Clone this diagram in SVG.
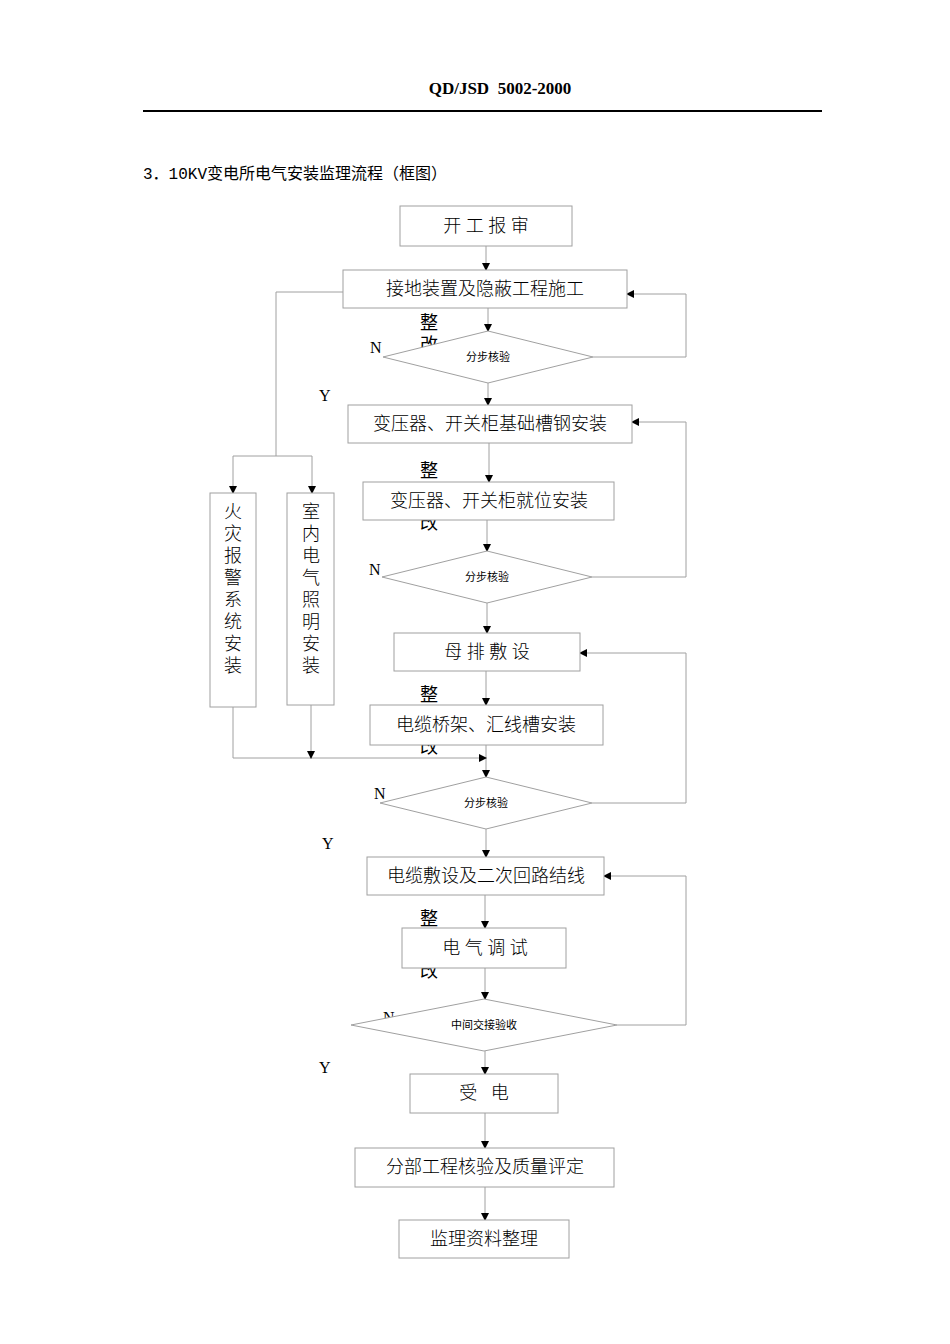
<svg xmlns="http://www.w3.org/2000/svg" width="950" height="1344" viewBox="0 0 950 1344">
<style>
.b{fill:#fff;stroke:#a0a0a0;stroke-width:1}
.l{fill:none;stroke:#a0a0a0;stroke-width:1}
.t{font-family:"Liberation Serif","Noto Sans CJK SC",serif;font-size:18px;font-weight:300;fill:#000;text-anchor:middle}
.s{font-family:"Liberation Serif","Noto Sans CJK SC",serif;font-size:11px;fill:#000;text-anchor:middle}
.yn{font-family:"Liberation Serif",serif;font-size:16px;fill:#000}
.z{font-family:"Liberation Serif","Noto Sans CJK SC",serif;font-size:18px;fill:#000}
</style>
<defs><marker id="a" markerWidth="8" markerHeight="8" refX="7" refY="4" orient="auto" markerUnits="userSpaceOnUse"><path d="M0,0L8,4L0,8z" fill="#000"/></marker></defs>
<rect width="950" height="1344" fill="#fff"/>
<text x="500" y="94" font-family="Liberation Serif,serif" font-weight="bold" font-size="17" text-anchor="middle">QD/JSD&#160; 5002-2000</text>
<line x1="143" y1="111" x2="822" y2="111" stroke="#000" stroke-width="2"/>
<text x="143" y="179" font-family="Liberation Mono,Noto Sans CJK SC,monospace" font-size="16">3．10KV变电所电气安装监理流程（框图）</text>
<g id="labels">
<text class="z" x="420" y="329">整</text><text class="z" x="420" y="351">改</text>
<text class="z" x="420" y="477">整</text><text class="z" x="420" y="529">改</text>
<text class="z" x="420" y="701">整</text><text class="z" x="420" y="753">改</text>
<text class="z" x="420" y="925">整</text><text class="z" x="420" y="977">改</text>
<text class="yn" x="370" y="353">N</text><text class="yn" x="319" y="401">Y</text>
<text class="yn" x="369" y="575">N</text>
<text class="yn" x="374" y="799">N</text><text class="yn" x="322" y="849">Y</text>
<text class="yn" x="383" y="1023">N</text><text class="yn" x="319" y="1073">Y</text>
</g>
<g id="connectors">
<line class="l" x1="486" y1="246" x2="486" y2="270" marker-end="url(#a)"/>
<line class="l" x1="488" y1="308" x2="488" y2="331" marker-end="url(#a)"/>
<line class="l" x1="488" y1="383" x2="488" y2="405" marker-end="url(#a)"/>
<polyline class="l" points="593,357 686,357 686,294 627,294" marker-end="url(#a)"/>
<line class="l" x1="489" y1="443" x2="489" y2="482" marker-end="url(#a)"/>
<line class="l" x1="487" y1="520" x2="487" y2="551" marker-end="url(#a)"/>
<line class="l" x1="487" y1="603" x2="487" y2="633" marker-end="url(#a)"/>
<polyline class="l" points="592,577 686,577 686,422 632,422" marker-end="url(#a)"/>
<line class="l" x1="486" y1="671" x2="486" y2="705" marker-end="url(#a)"/>
<line class="l" x1="486" y1="745" x2="486" y2="777" marker-end="url(#a)"/>
<polyline class="l" points="592,803 686,803 686,653 580,653" marker-end="url(#a)"/>
<line class="l" x1="486" y1="829" x2="486" y2="857" marker-end="url(#a)"/>
<line class="l" x1="485" y1="895" x2="485" y2="928" marker-end="url(#a)"/>
<line class="l" x1="485" y1="968" x2="485" y2="999" marker-end="url(#a)"/>
<polyline class="l" points="617,1025 686,1025 686,876 604,876" marker-end="url(#a)"/>
<line class="l" x1="485" y1="1051" x2="485" y2="1074" marker-end="url(#a)"/>
<line class="l" x1="485" y1="1113" x2="485" y2="1148" marker-end="url(#a)"/>
<line class="l" x1="485" y1="1187" x2="485" y2="1220" marker-end="url(#a)"/>
<polyline class="l" points="343,292 276,292 276,456"/>
<line class="l" x1="233" y1="456" x2="312" y2="456"/>
<line class="l" x1="233" y1="456" x2="233" y2="493" marker-end="url(#a)"/>
<line class="l" x1="312" y1="456" x2="312" y2="493" marker-end="url(#a)"/>
<polyline class="l" points="233,707 233,758 486,758" marker-end="url(#a)"/>
<line class="l" x1="311" y1="705" x2="311" y2="758" marker-end="url(#a)"/>
</g>
<g id="n1"><rect class="b" x="400" y="206" width="172" height="40"/><text class="t" x="486" y="232">开 工 报 审</text></g>
<g id="n2"><rect class="b" x="343" y="270" width="284" height="38"/><text class="t" x="485" y="295">接地装置及隐蔽工程施工</text></g>
<g id="d1"><polygon class="b" points="383,357 488,331 593,357 488,383"/><text class="s" x="488" y="361">分步核验</text></g>
<g id="n3"><rect class="b" x="348" y="405" width="284" height="38"/><text class="t" x="490" y="430">变压器、开关柜基础槽钢安装</text></g>
<g id="n4"><rect class="b" x="363" y="482" width="251" height="38"/><text class="t" x="489" y="507">变压器、开关柜就位安装</text></g>
<g id="d2"><polygon class="b" points="382,577 487,551 592,577 487,603"/><text class="s" x="487" y="581">分步核验</text></g>
<g id="n5"><rect class="b" x="394" y="633" width="186" height="38"/><text class="t" x="487" y="658">母 排 敷 设</text></g>
<g id="n6"><rect class="b" x="370" y="705" width="233" height="40"/><text class="t" x="486" y="731">电缆桥架、汇线槽安装</text></g>
<g id="d3"><polygon class="b" points="380,803 486,777 592,803 486,829"/><text class="s" x="486" y="807">分步核验</text></g>
<g id="n7"><rect class="b" x="367" y="857" width="237" height="38"/><text class="t" x="486" y="882">电缆敷设及二次回路结线</text></g>
<g id="n8"><rect class="b" x="402" y="928" width="164" height="40"/><text class="t" x="485" y="954">电 气 调 试</text></g>
<g id="d4"><polygon class="b" points="351,1025 484,999 617,1025 484,1051"/><text class="s" x="484" y="1029">中间交接验收</text></g>
<g id="n9"><rect class="b" x="410" y="1074" width="148" height="39"/><text class="t" x="484" y="1099">受&#160;&#160;&#160;电</text></g>
<g id="n10"><rect class="b" x="355" y="1148" width="259" height="39"/><text class="t" x="485" y="1173">分部工程核验及质量评定</text></g>
<g id="n11"><rect class="b" x="399" y="1220" width="170" height="38"/><text class="t" x="484" y="1245">监理资料整理</text></g>
<g id="n12"><rect class="b" x="210" y="493" width="46" height="214"/><text class="t" x="233" y="518">火</text><text class="t" x="233" y="540">灾</text><text class="t" x="233" y="562">报</text><text class="t" x="233" y="584">警</text><text class="t" x="233" y="606">系</text><text class="t" x="233" y="628">统</text><text class="t" x="233" y="650">安</text><text class="t" x="233" y="672">装</text></g>
<g id="n13"><rect class="b" x="287" y="493" width="47" height="212"/><text class="t" x="311" y="518">室</text><text class="t" x="311" y="540">内</text><text class="t" x="311" y="562">电</text><text class="t" x="311" y="584">气</text><text class="t" x="311" y="606">照</text><text class="t" x="311" y="628">明</text><text class="t" x="311" y="650">安</text><text class="t" x="311" y="672">装</text></g>
</svg>
